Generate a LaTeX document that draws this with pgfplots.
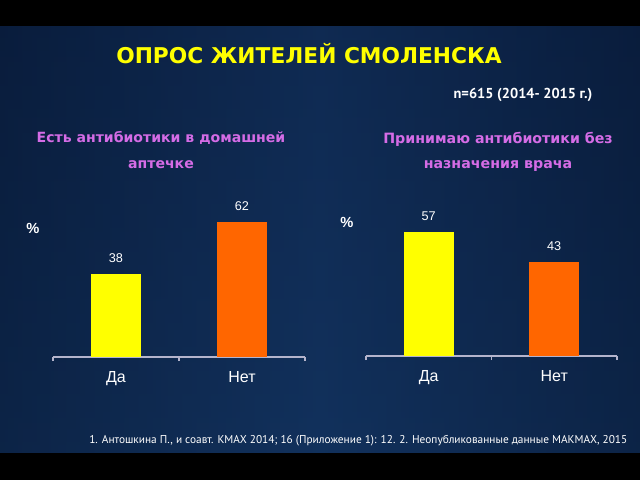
\documentclass[border=0pt]{standalone}
\usepackage{pgfplots}
\pgfplotsset{compat=1.18}
\usepackage{fontspec}
\setmainfont{Liberation Sans}
\newfontfamily\dv{DejaVu Sans}
\newfontfamily\pts{PT Sans}
\definecolor{bgA}{HTML}{06142E}
\definecolor{bgB}{HTML}{0F2A52}
\definecolor{bgC}{HTML}{163C6C}
\definecolor{subc}{HTML}{D56CE6}
\definecolor{barY}{HTML}{FFFF00}
\definecolor{barO}{HTML}{FF6600}
\definecolor{axc}{HTML}{B4B4CC}
\pgfplotsset{
  chartstyle/.style={
    scale only axis, anchor=south west,
    xmin=-0.5, xmax=1.5, ymin=0, ymax=100,
    hide y axis, axis x line*=bottom,
    axis line style={axc, line width=1pt},
    xtick={0,1}, xticklabels={Да,Нет}, major tick length=0pt,
    extra x ticks={-0.5,0.5,1.5}, extra x tick labels={},
    extra x tick style={major tick length=3pt, tick align=outside, tick style={axc, line width=0.8pt}},
    xticklabel style={text=white, font=\fontsize{12}{14}\selectfont, yshift=-7pt},
    ybar, bar width=37.5pt, clip=false,
    nodes near coords,
    /pgf/number format/assume math mode=true,
    nodes near coords style={text=white, font=\fontsize{9.5}{11}\selectfont, yshift=5pt},
  }
}
\begin{document}
\begin{tikzpicture}[x=0.75pt,y=-0.75pt]
\shade[top color=bgB, bottom color=bgC] (0,26) rectangle (640,453);
\shade[left color=bgA, right color=bgA, middle color=bgB, opacity=0.6] (0,26) rectangle (640,453);
\fill[black] (0,0) rectangle (640,26);
\fill[black] (0,453) rectangle (640,480);
\node[font=\dv\bfseries\fontsize{16.3}{19}\selectfont, text=barY] at (309,54) {ОПРОС ЖИТЕЛЕЙ СМОЛЕНСКА};
\node[font=\pts\bfseries\fontsize{10.8}{12}\selectfont, text=white] at (523,95) {n=615 (2014- 2015 г.)};
\node[align=center, font=\dv\bfseries\fontsize{10.55}{19}\selectfont, text=subc] at (161,150) {Есть антибиотики в домашней\\аптечке};
\node[align=center, font=\dv\bfseries\fontsize{10.65}{19}\selectfont, text=subc] at (498,152) {Принимаю антибиотики без\\назначения врача};
\node[font=\bfseries\fontsize{11}{13}\selectfont, text=white] at (33,228) {\%};
\node[font=\bfseries\fontsize{11}{13}\selectfont, text=white] at (347,222) {\%};
\node[anchor=east, font=\pts\fontsize{8.5}{10}\selectfont, text=white] at (632,441) {1. Антошкина П., и соавт. КМАХ 2014; 16 (Приложение 1): 12. 2. Неопубликованные данные МАКМАХ, 2015};
\coordinate (L0) at (53,357);
\coordinate (R0) at (366,356);
\begin{axis}[chartstyle, at={(L0)}, width=189pt, height=163.5pt]
\addplot[fill=barY, draw=none, bar shift=0pt] coordinates {(0,38)};
\addplot[fill=barO, draw=none, bar shift=0pt] coordinates {(1,62)};
\end{axis}
\begin{axis}[chartstyle, at={(R0)}, width=188.25pt, height=163.5pt]
\addplot[fill=barY, draw=none, bar shift=0pt] coordinates {(0,57)};
\addplot[fill=barO, draw=none, bar shift=0pt] coordinates {(1,43)};
\end{axis}
\end{tikzpicture}
\end{document}
